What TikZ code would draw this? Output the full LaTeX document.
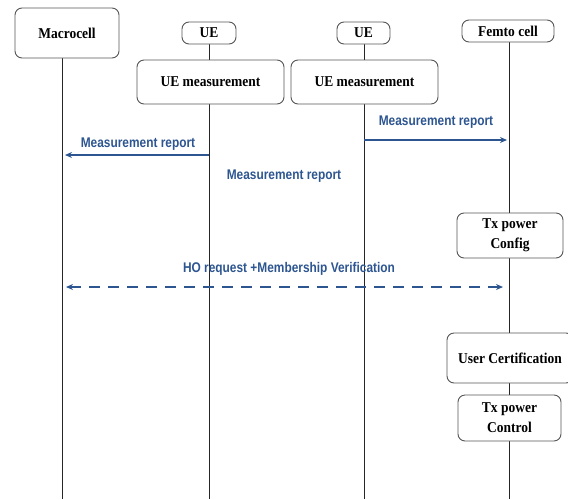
\documentclass[tikz,border=0pt]{standalone}
\usepackage{fontspec}
\usetikzlibrary{arrows.meta}
\newfontfamily\boxfont[FakeStretch=0.9]{Liberation Serif}
\newfontfamily\labfont[FakeStretch=0.85]{Liberation Sans}
\definecolor{msgblue}{HTML}{2D5590}
\definecolor{boxgray}{HTML}{555555}
\tikzset{
  entity/.style={draw=boxgray, line width=0.9pt, rounded corners=7pt, fill=white, align=center,
    font=\boxfont\bfseries\fontsize{15}{20}\selectfont, inner sep=0pt},
  life/.style={draw=black!85, line width=0.9pt},
  msg/.style={draw=msgblue, line width=1.6pt, -{Stealth[length=7pt,width=6pt]}},
  dmsg/.style={draw=msgblue, line width=1.9pt, dash pattern=on 11pt off 8pt, {Stealth[length=7pt,width=6pt]}-{Stealth[length=7pt,width=6pt]}},
  lab/.style={text=msgblue, font=\labfont\bfseries\fontsize{14}{16}\selectfont, inner sep=0pt}
}
\begin{document}
\begin{tikzpicture}[x=1pt,y=-1pt]
\useasboundingbox (0,0) rectangle (568,499);
\clip (0,0) rectangle (568,499);
% coordinates at the lifeline bottoms
\coordinate (macEnd) at (62,499);
\coordinate (ueAEnd) at (209,499);
\coordinate (ueBEnd) at (364,499);
\coordinate (femEnd) at (509,499);
% lifelines
\draw[life] (62,58) -- (macEnd);
\draw[life] (209,44) -- (ueAEnd);
\draw[life] (364,44) -- (ueBEnd);
\draw[life] (509,42) -- (femEnd);
% entities
\node[entity, minimum width=104pt, minimum height=50pt] (mac) at (67,33) {Macrocell};
\node[entity, minimum width=54pt, minimum height=22pt] (ueA) at (209,33) {UE};
\node[entity, minimum width=147pt, minimum height=44pt] (ueAm) at (210.5,82) {UE measurement};
\node[entity, minimum width=53pt, minimum height=22pt] (ueB) at (363.5,33) {UE};
\node[entity, minimum width=147pt, minimum height=44pt] (ueBm) at (364.5,82) {UE measurement};
\node[entity, minimum width=92pt, minimum height=22pt] (fem) at (508,31) {Femto cell};
\node[entity, minimum width=106pt, minimum height=45pt] (txc) at (510,235.5) {Tx power\\Config};
\node[entity, minimum width=126pt, minimum height=50pt] (uc) at (510,358) {User Certification};
\node[entity, minimum width=103pt, minimum height=46pt] (txp) at (509.5,418) {Tx power\\Control};
% message anchor points
\coordinate (m1s) at (209,155);
\coordinate (m1e) at (65,155);
\coordinate (m2s) at (364,140);
\coordinate (m2e) at (507,140);
\coordinate (hoA) at (66,287);
\coordinate (hoB) at (503,287);
\draw[msg] (m1s) -- (m1e);
\draw[msg] (m2s) -- (m2e);
\draw[dmsg] (hoA) -- (hoB);
% labels
\node[lab] (l1) at (138,144.5) {Measurement report};
\node[lab] (l2) at (436,122.5) {Measurement report};
\node[lab] (l3) at (284,176.5) {Measurement report};
\node[lab] (l4) at (289,268.5) {HO request +Membership Verification};
\end{tikzpicture}
\end{document}
